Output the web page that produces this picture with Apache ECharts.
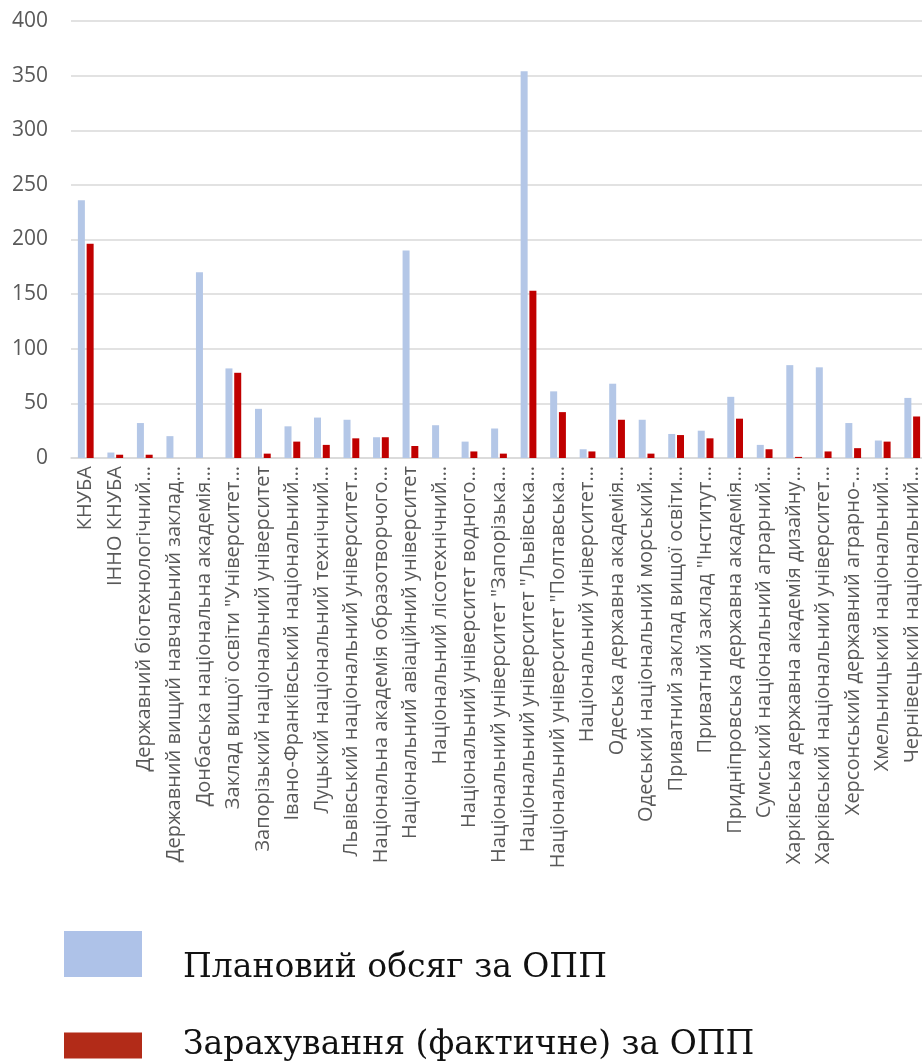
<!DOCTYPE html>
<html>
<head>
<meta charset="utf-8">
<script src="https://cdn.jsdelivr.net/npm/echarts@6/dist/echarts.min.js"></script>
<style>
html,body{margin:0;padding:0;background:#fff;}
#chart{width:922px;height:1062px;}
</style>
</head>
<body>
<div id="chart"></div>
<script>
const categories = [
  "КНУБА",
  "ІННО КНУБА",
  "Державний біотехнологічний…",
  "Державний вищий навчальний заклад…",
  "Донбаська національна академія…",
  "Заклад вищої освіти \"Університет…",
  "Запорізький національний університет",
  "Івано-Франківський національний…",
  "Луцький національний технічний…",
  "Львівський національний університет…",
  "Національна академія образотворчого…",
  "Національний авіаційний університет",
  "Національний лісотехнічний…",
  "Національний університет водного…",
  "Національний університет \"Запорізька…",
  "Національний університет \"Львівська…",
  "Національний університет \"Полтавська…",
  "Національний університет…",
  "Одеська державна академія…",
  "Одеський національний морський…",
  "Приватний заклад вищої освіти…",
  "Приватний заклад \"Інститут…",
  "Придніпровська державна академія…",
  "Сумський національний аграрний…",
  "Харківська державна академія дизайну…",
  "Харківський національний університет…",
  "Херсонський державний аграрно-…",
  "Хмельницький національний…",
  "Чернівецький національний…"
];
const seriesNames = ["Плановий обсяг за ОПП", "Зарахування (фактичне) за ОПП"];
const planned = [236, 5, 32, 20, 170, 82, 45, 29, 37, 35, 19, 190, 30, 15, 27, 354, 61, 8, 68, 35, 22, 25, 56, 12, 85, 83, 32, 16, 55];
const actual  = [196, 3, 3, 0, 0, 78, 4, 15, 12, 18, 19, 11, 0, 6, 4, 153, 42, 6, 35, 4, 21, 18, 36, 8, 1, 6, 9, 15, 38];
const yTicks = { min: 0, max: 400, interval: 50 };

const chart = echarts.init(document.getElementById('chart'), null, {renderer: 'canvas'});
const labelGray = '#595959';
const gridGray = '#d9d9d9';
const legendFont = { fontFamily: 'DejaVu Serif', fontSize: 33, color: '#111111' };
chart.setOption({
  animation: false,
  backgroundColor: '#ffffff',
  grid: { left: 71, right: -5, top: 21, bottom: 604, containLabel: false, outerBoundsMode: 'none' },
  legend: [
    {
      data: [{ name: seriesNames[0], itemStyle: { color: '#aec2e8' } }],
      left: 64, top: 931, orient: 'vertical', padding: 0,
      itemWidth: 78, itemHeight: 46, icon: 'rect',
      formatter: function (n) { return '{t|' + n + '}'; },
      textStyle: Object.assign({}, legendFont, {
        rich: { t: Object.assign({}, legendFont, { padding: [28, 0, 0, 36] }) }
      })
    },
    {
      data: [{ name: seriesNames[1], itemStyle: { color: '#b22b18' } }],
      left: 64, top: 1029, orient: 'vertical', padding: 0,
      itemWidth: 78, itemHeight: 26, icon: 'rect',
      formatter: function (n) { return '{t|' + n + '}'; },
      textStyle: Object.assign({}, legendFont, {
        rich: { t: Object.assign({}, legendFont, { lineHeight: 26, padding: [0, 0, 0, 36] }) }
      })
    }
  ],
  xAxis: {
    type: 'category',
    data: categories,
    axisTick: { show: false },
    axisLine: { show: true, lineStyle: { color: gridGray, width: 1.5 } },
    axisLabel: {
      interval: 0, rotate: 90, margin: 8,
      fontFamily: 'Open Sans', fontSize: 20, color: labelGray
    }
  },
  yAxis: {
    type: 'value',
    min: yTicks.min, max: yTicks.max, interval: yTicks.interval,
    axisLine: { show: false },
    axisTick: { show: false },
    axisLabel: { fontFamily: 'Open Sans', fontSize: 21, color: labelGray, margin: 23 },
    splitLine: { lineStyle: { color: gridGray, width: 1.5 } }
  },
  series: [
    {
      name: seriesNames[0], type: 'bar', data: planned,
      barWidth: 7, barGap: '25%',
      itemStyle: { color: '#b4c7e7' }
    },
    {
      name: seriesNames[1], type: 'bar', data: actual,
      barWidth: 7,
      itemStyle: { color: '#c00000' }
    }
  ]
});
</script>
</body>
</html>
